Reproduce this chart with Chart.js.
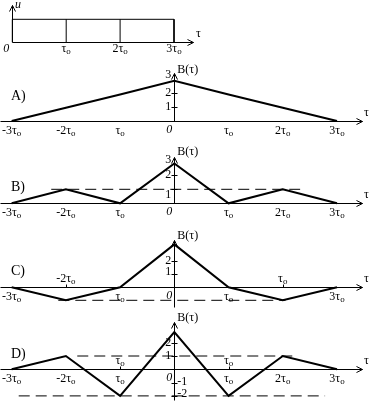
<!DOCTYPE html>
<html><head><meta charset="utf-8">
<script src="https://cdn.jsdelivr.net/npm/chart.js@4/dist/chart.umd.min.js"></script>
<style>html,body{margin:0;padding:0;background:#fff;overflow:hidden}#wrap{width:369px;height:407px;position:relative}canvas{display:block}</style>
</head><body><div id="wrap"><canvas id="c" width="369" height="407"></canvas></div>
<script>
// ---- data ----
const pulseT = [0, 1, 2, 3];            // pulse boundaries (units of tau0)
const pulseU = [1, 1, 1];               // pulse amplitudes
const pulseLabels = ['0', 'τo', '2τo', '3τo'];

const tau = [-3, -2, -1, 0, 1, 2, 3];   // lag axis (units of tau0)
const tauLabels = ['-3τo', '-2τo', 'τo', '0', 'τo', '2τo', '3τo'];

const bA = [0, 0.95, 1.9, 2.9, 1.9, 0.95, 0];
const bB = [0, 1, 0, 2.85, 0, 1, 0];
const bC = [0, -1, 0, 3.3, 0, -1, 0];
const bD = [0, 1, -2, 2.8, -2, 1, 0];

const yTicksA = [1, 2, 3];
const yTicksB = [1, 2, 3];
const yTicksC = [1, 2];
const yTicksD = [2, 1, -1, -2];

// dashed reference levels: [level, from tau, to tau]
const dashB = [[1, -2.27, 2.32]];
const dashC = [[-1, -2.14, 2.05]];
const dashD = [[1, -1.79, 2.19], [-2, -2.87, 2.78]];

// C: labels above/below the axis
const aboveC = [-2, 2], aboveCLabels = ['-2τo', 'τo'];
const belowC = [-3, -1, 0, 1, 3], belowCLabels = ['-3τo', 'τo', '0', 'τo', '3τo'];
const aboveD = [-1, 1], aboveDLabels = ['τo', 'τo'];

// ---- layout ----
const W = 369, H = 407;
function yScale(y0, unit) { return { type: 'linear', display: false, min: -(H - y0) / unit, max: y0 / unit }; }

const pts = (xs, ys) => ys.map((v, i) => ({ x: xs[i], y: v }));
const curve = (ys, yid) => ({ data: pts(tau, ys), xAxisID: 'x', yAxisID: yid, borderColor: '#000', borderWidth: 2, pointRadius: 0, tension: 0, fill: false });
const dashSets = (arr, yid) => arr.map(d => ({ data: [{ x: d[1], y: d[0] }, { x: d[2], y: d[0] }], xAxisID: 'x', yAxisID: yid, borderColor: '#000', borderWidth: 1, borderDash: [11, 6], pointRadius: 0, fill: false }));

const datasets = [];
// pulse box
datasets.push({ data: [{ x: pulseT[0], y: 0 }, { x: pulseT[0], y: pulseU[0] }, { x: pulseT[3], y: pulseU[2] }, { x: pulseT[3], y: 0 }], xAxisID: 'xu', yAxisID: 'yu', borderColor: '#000', borderWidth: 1, pointRadius: 0, fill: false });
[1, 2].forEach(i => datasets.push({ data: [{ x: pulseT[i], y: 0 }, { x: pulseT[i], y: pulseU[i] }], xAxisID: 'xu', yAxisID: 'yu', borderColor: '#000', borderWidth: 1, pointRadius: 0, fill: false }));
datasets.push(...dashSets(dashB, 'yB'), ...dashSets(dashC, 'yC'), ...dashSets(dashD, 'yD'));
datasets.push(curve(bA, 'yA'), curve(bB, 'yB'), curve(bC, 'yC'), curve(bD, 'yD'));

const SERIF = "'Liberation Serif','DejaVu Serif',serif";
const panels = [
  { y: 'yA', top: 48, bottom: 0, name: 'A)', nameY: -21, ticks: yTicksA, marks: [1, 2], lblDy: { 3: -4 }, above: [], aboveL: [], below: tau, belowL: tauLabels },
  { y: 'yB', top: 46, bottom: 0, name: 'B)', nameY: -12, ticks: yTicksB, marks: [1, 2], lblDy: { 1: 6, 3: -1 }, above: [], aboveL: [], below: tau, belowL: tauLabels },
  { y: 'yC', top: 47, bottom: 20, name: 'C)', nameY: -12, ticks: yTicksC, marks: [1, 2], lblDy: { 1: -2 }, above: aboveC, aboveL: aboveCLabels, below: belowC, belowL: belowCLabels },
  { y: 'yD', top: 47, bottom: 31, name: 'D)', nameY: -11, ticks: yTicksD, marks: [1, 2, -1, -2], lblDy: { '-1': -1, '-2': -2 }, above: aboveD, aboveL: aboveDLabels, below: tau, belowL: tauLabels }
];

const axesPlugin = {
  id: 'axesPlugin',
  afterDatasetsDraw(chart) {
    const c = chart.ctx, X = chart.scales.x;
    const r = v => Math.round(v) + 0.5;
    c.save();
    c.strokeStyle = '#000'; c.fillStyle = '#000'; c.lineWidth = 1;
    const line = (x1, y1, x2, y2) => { c.beginPath(); c.moveTo(r(x1), r(y1)); c.lineTo(r(x2), r(y2)); c.stroke(); };
    const arrowR = (x, y) => { line(x - 6, y - 3, x, y); line(x - 6, y + 3, x, y); };
    const arrowU = (x, y) => { line(x - 3, y + 6, x, y); line(x + 3, y + 6, x, y); };
    const text = (s, x, y, font, align) => { c.font = font; c.textAlign = align || 'left'; c.textBaseline = 'alphabetic'; c.fillText(s, x, y); };
    const tauLabel = (s, x, y) => {
      if (s === '0') { text('0', x, y, 'italic 12px ' + SERIF, 'center'); return; }
      let main = s, sub = '';
      if (s.endsWith('τo')) { main = s.slice(0, -1); sub = 'o'; }
      c.font = '12px ' + SERIF; const w1 = c.measureText(main).width;
      c.font = '9px ' + SERIF; const w2 = sub ? c.measureText(sub).width : 0;
      const x0 = x - (w1 + w2) / 2;
      text(main, x0, y, '12px ' + SERIF, 'left');
      if (sub) text(sub, x0 + w1, y + 2, '9px ' + SERIF, 'left');
    };

    // ---- pulse panel ----
    const XU = chart.scales.xu, YU = chart.scales.yu;
    const ux0 = XU.getPixelForValue(0), uy0 = YU.getPixelForValue(0);
    line(ux0, uy0, 193, uy0); arrowR(193, uy0);
    line(ux0, uy0, ux0, 5); arrowU(ux0, 5);
    text('u', 15, 8, 'italic 12px ' + SERIF);
    text('τ', 196, 37, '12px ' + SERIF);
    pulseT.forEach((t, i) => {
      const px = XU.getPixelForValue(t);
      if (i === 0) text('0', px - 6, uy0 + 10, 'italic 12px ' + SERIF, 'center');
      else tauLabel(pulseLabels[i], px, uy0 + 10);
    });

    // ---- B(tau) panels ----
    const x0 = X.getPixelForValue(0);
    panels.forEach(p => {
      const Y = chart.scales[p.y];
      const y0 = Y.getPixelForValue(0);
      line(0, y0, 362, y0); arrowR(362, y0);
      text('τ', 364, y0 - 5, '12px ' + SERIF);
      line(x0, y0 + p.bottom, x0, y0 - p.top); arrowU(x0, y0 - p.top);
      text('B(τ)', x0 + 3, y0 - 48, '12px ' + SERIF);
      text(p.name, 11, y0 + p.nameY, '14px ' + SERIF);
      p.marks.forEach(v => { const py = Y.getPixelForValue(v); line(x0 - 3, py, x0 + 3, py); });
      p.ticks.forEach(v => {
        const py = Y.getPixelForValue(v) + (p.lblDy[v] || 0);
        c.font = '12px ' + SERIF; c.textBaseline = 'middle';
        if (v > 0) { c.textAlign = 'right'; c.fillText(String(v), x0 - 3, py); }
        else { c.textAlign = 'left'; c.fillText(String(v), x0 + 3, py); }
      });
      p.below.forEach((t, i) => {
        const px = X.getPixelForValue(t);
        if (p.belowL[i] === '0') text('0', x0 - 5, y0 + 12, 'italic 12px ' + SERIF, 'center');
        else tauLabel(p.belowL[i], px, y0 + 13);
      });
      p.above.forEach((t, i) => {
        const px = X.getPixelForValue(t);
        line(px, y0, px, y0 - 3);
        tauLabel(p.aboveL[i], px, y0 - 5);
      });
    });
    c.restore();
  }
};

new Chart(document.getElementById('c'), {
  type: 'line',
  data: { datasets },
  options: {
    responsive: false, animation: false, devicePixelRatio: 1,
    layout: { padding: 0 },
    plugins: { legend: { display: false }, tooltip: { enabled: false } },
    elements: { point: { radius: 0 }, line: { tension: 0 } },
    scales: {
      x: { type: 'linear', display: false, min: -3.215, max: 3.59 },
      xu: { type: 'linear', axis: 'x', display: false, min: -12.3 / 53.9, max: (W - 12.3) / 53.9 },
      yu: yScale(42.3, 23),
      yA: yScale(121, 13.9),
      yB: yScale(203.3, 14),
      yC: yScale(287.3, 13),
      yD: yScale(369.3, 13.3)
    }
  },
  plugins: [axesPlugin]
});
</script>
</body></html>
